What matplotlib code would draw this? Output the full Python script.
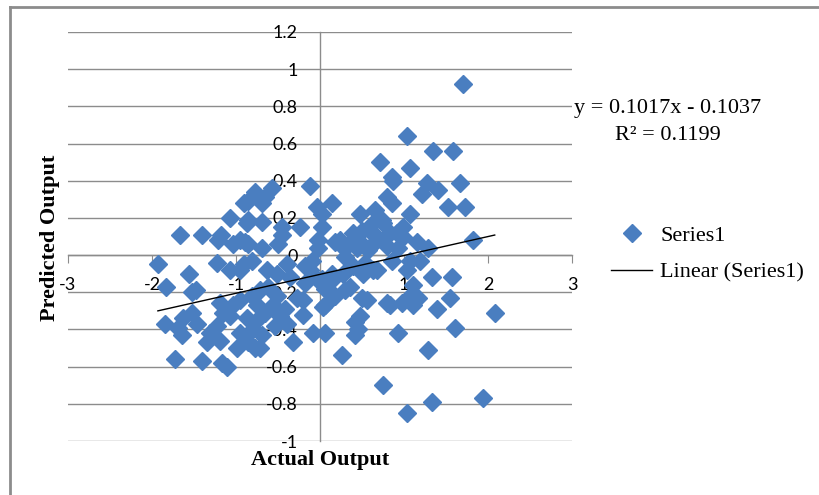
import numpy as np
import matplotlib.pyplot as plt
from matplotlib.lines import Line2D

# values
actual = [-1.93, -1.83, -1.56, -1.48, -1.67, -1.40, -1.18, -1.07, -0.90, -0.87,
          -1.21, -1.04, -0.89, -1.23, -1.07, -0.95, -0.90, -1.52, -1.19, -1.85,
          -1.63, -1.52, -1.46, -1.64, -1.73, -1.40, -1.17, -1.11, -1.35, -1.19,
          -1.23, -1.07, -0.99, -0.95, -1.15, -1.31, -0.87, -1.04, -1.69, -0.81,
          -0.65, -0.69, -0.77, -0.86, -0.71, -0.80, -0.95, -0.75, -0.56, -0.48,
          -0.77, -0.54, -0.42, -0.39, -0.32, -0.20, -0.71, -0.62, -0.51, -0.63,
          -0.51, -0.39, -0.36, -0.81, -0.18, -0.18, -0.10, -0.04, 0.02, -0.12,
          -0.08, 0.06, 0.26, 0.42, 0.48, 0.42, 0.50, 0.30, 0.06, 0.06,
          0.18, 0.04, 0.15, 0.27, 0.39, 0.51, 0.63, 0.36, 0.56, 0.32,
          0.44, 0.30, 0.54, 0.57, 0.14, -0.77, -0.65, -0.57, -0.86, -0.69,
          -0.12, -0.04, 0.14, 0.02, -0.86, -0.69, -0.45, -0.24, 0.02, -0.45,
          -0.02, -0.86, -0.69, -0.50, 0.18, 0.26, -0.02, 0.48, 0.50, 0.45,
          0.63, -0.95, 0.24, 0.39, 0.60, 0.75, 0.92, 0.71, 0.80, 0.87,
          1.04, 1.07, 1.35, 1.58, 1.70, 0.86, 0.86, 1.27, 1.21, 1.40,
          1.67, 1.52, 1.73, 1.07, 0.65, 0.74, 0.83, 0.99, 0.68, 0.63,
          0.80, 0.93, 1.15, 1.29, 1.82, 0.86, 1.07, 1.19, 1.04, 0.68,
          1.11, 1.33, 1.57, 0.99, 0.83, 0.98, 1.11, 1.07, 1.17, 1.39,
          1.55, 2.08, 0.93, 1.61, 1.29, 0.75, 1.33, 1.94, 1.04, 0.80,
          0.45, -0.27, -0.20]
predicted = [-0.05, -0.17, -0.10, -0.19, 0.11, 0.11, 0.11, 0.20, 0.28, 0.17,
             0.08, 0.06, 0.07, -0.04, -0.08, -0.08, -0.05, -0.20, -0.26, -0.37,
             -0.34, -0.31, -0.37, -0.43, -0.56, -0.57, -0.58, -0.60, -0.47, -0.46,
             -0.38, -0.33, -0.50, -0.42, -0.31, -0.42, -0.34, -0.27, -0.39, -0.22,
             -0.31, -0.43, -0.50, -0.47, -0.50, -0.40, -0.24, -0.27, -0.27, -0.33,
             -0.36, -0.38, -0.29, -0.37, -0.47, -0.32, -0.19, -0.17, -0.22, -0.08,
             -0.10, -0.05, -0.12, -0.03, -0.06, -0.15, -0.03, -0.13, -0.13, -0.08,
             -0.42, -0.42, -0.54, -0.36, -0.33, -0.43, -0.23, -0.19, -0.27, -0.18,
             -0.22, -0.28, -0.13, -0.10, -0.06, -0.10, -0.08, -0.17, -0.24, 0.05,
             0.04, -0.01, -0.04, 0.03, -0.10, 0.34, 0.31, 0.36, 0.29, 0.28,
             0.37, 0.26, 0.28, 0.22, 0.19, 0.18, 0.15, 0.15, 0.15, 0.11,
             0.08, 0.06, 0.04, 0.06, 0.07, 0.05, 0.04, 0.22, 0.13, 0.08,
             0.17, 0.08, 0.08, 0.12, 0.13, 0.17, 0.12, 0.50, 0.31, 0.40,
             0.64, 0.47, 0.56, 0.56, 0.92, 0.42, 0.28, 0.39, 0.33, 0.35,
             0.39, 0.26, 0.26, 0.22, 0.24, 0.19, 0.12, 0.10, 0.10, 0.06,
             0.05, 0.04, 0.07, 0.04, 0.08, -0.03, -0.03, -0.03, -0.08, -0.08,
             -0.16, -0.12, -0.12, 0.15, -0.27, -0.26, -0.27, -0.22, -0.23, -0.29,
             -0.23, -0.31, -0.42, -0.39, -0.51, -0.70, -0.79, -0.77, -0.85, -0.26,
             -0.40, -0.23, -0.24]

slope = 0.1017
intercept = -0.1037
r2 = 0.1199

xticks = [-3, -2, -1, 0, 1, 2, 3]
xlabels = ["-3", "-2", "-1", "0", "1", "2", "3"]
yticks = [-1, -0.8, -0.6, -0.4, -0.2, 0, 0.2, 0.4, 0.6, 0.8, 1, 1.2]
ylabels = ["-1", "-0.8", "-0.6", "-0.4", "-0.2", "0", "0.2", "0.4", "0.6", "0.8", "1", "1.2"]

serif = "Liberation Serif"
tickfont = "Lato"
blue = "#4A7EC0"
gray = "#8C8C8C"

fig = plt.figure(figsize=(8.19, 4.95), dpi=100)
ax = fig.add_axes([68 / 819, 54 / 495, 504 / 819, 409 / 495])

for yv in yticks:
    ax.axhline(yv, color=gray, lw=1.0, zorder=0.5)

ax.plot(actual, predicted, ls="none", marker="D", ms=9, color=blue, mec=blue, zorder=2)
xs = np.array([min(actual), max(actual)])
ax.plot(xs, slope * xs + intercept, color="black", lw=1.0, zorder=2.1)

ax.set_xlim(-3, 3)
ax.set_ylim(-1, 1.2)
for s in ["top", "right"]:
    ax.spines[s].set_visible(False)
ax.spines["left"].set_position(("data", 0))
ax.spines["bottom"].set_position(("data", 0))
for s in ["left", "bottom"]:
    ax.spines[s].set_color(gray)
    ax.spines[s].set_linewidth(1.0)
    ax.spines[s].set_zorder(1)

ax.set_xticks(xticks)
ax.set_xticklabels(xlabels, fontfamily=tickfont, fontsize=13)
ax.set_yticks(yticks)
ax.set_yticklabels(ylabels, fontfamily=tickfont, fontsize=13)
ax.tick_params(axis="x", direction="out", length=6, color=gray, pad=10)
ax.tick_params(axis="y", length=0, pad=16)

fig.text(50 / 819, 1 - 238 / 495, "Predicted Output", rotation=90, ha="center", va="center",
         fontfamily=serif, fontweight="bold", fontsize=16)
fig.text(320 / 819, 1 - 460 / 495, "Actual Output", ha="center", va="center",
         fontfamily=serif, fontweight="bold", fontsize=16)

fig.text(668 / 819, 1 - 122 / 495, "y = %.4fx - %.4f\nR² = %.4f" % (slope, -intercept, r2),
         ha="center", va="center", fontfamily=serif, fontsize=16, linespacing=1.5)

handles = [Line2D([], [], ls="none", marker="D", ms=9, color=blue),
           Line2D([], [], color="black", lw=1.0)]
fig.legend(handles, ["Series1", "Linear (Series1)"], loc="center left",
           bbox_to_anchor=(591 / 819, 1 - 254 / 495), frameon=False,
           prop={"family": serif, "size": 16}, handlelength=1.85, labelspacing=0.7,
           handletextpad=0.36)

# outer chart frame (only top and left edges visible in the crop)
fig.add_artist(Line2D([10 / 819, 1.0], [1 - 7 / 495, 1 - 7 / 495], color=gray, lw=2, transform=fig.transFigure))
fig.add_artist(Line2D([10 / 819, 10 / 819], [0, 1 - 7 / 495], color=gray, lw=2, transform=fig.transFigure))

fig.savefig("out.png", dpi=100)
